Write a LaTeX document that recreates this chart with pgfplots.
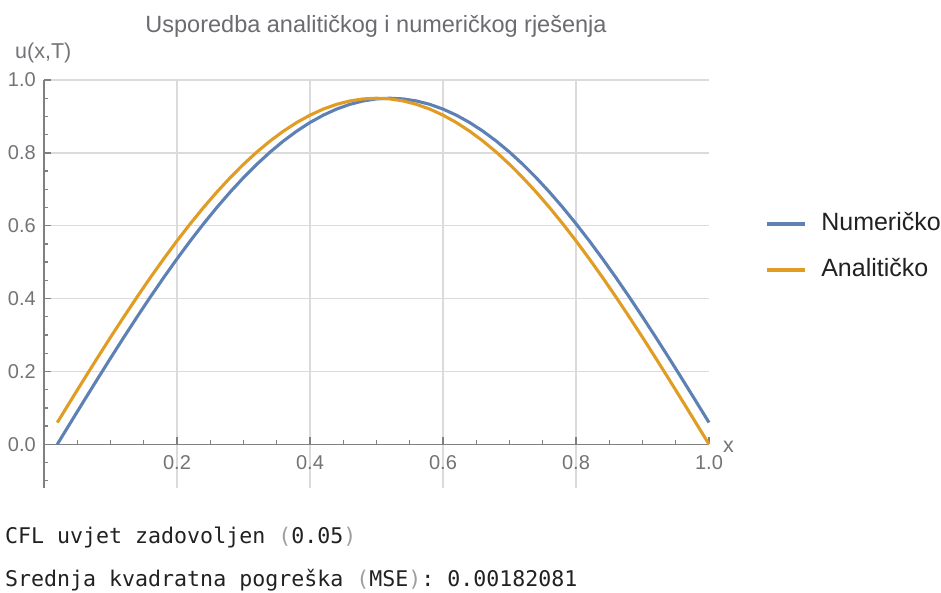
\documentclass[border=0pt]{standalone}
\usepackage{pgfplots}
\pgfplotsset{compat=1.18}
\usepackage{fontspec}
\setmainfont{Liberation Sans}
\setmonofont{DejaVu Sans Mono}

\definecolor{numblue}{rgb}{0.368,0.507,0.710}
\definecolor{anaorange}{rgb}{0.881,0.611,0.142}
\definecolor{axgray}{rgb}{0.50,0.50,0.50}
\definecolor{gridgray}{rgb}{0.86,0.86,0.86}
\definecolor{labgray}{rgb}{0.45,0.45,0.47}
\definecolor{titlegray}{rgb}{0.42,0.42,0.44}
\definecolor{txt}{rgb}{0.13,0.13,0.13}
\definecolor{parengray}{rgb}{0.62,0.62,0.62}

\pgfplotstableread{
x y
0.02 0.0000
0.04 0.0597
0.06 0.1191
0.08 0.1780
0.10 0.2363
0.12 0.2936
0.14 0.3497
0.16 0.4045
0.18 0.4577
0.20 0.5090
0.22 0.5584
0.24 0.6055
0.26 0.6503
0.28 0.6925
0.30 0.7320
0.32 0.7686
0.34 0.8021
0.36 0.8325
0.38 0.8596
0.40 0.8833
0.42 0.9035
0.44 0.9202
0.46 0.9332
0.48 0.9425
0.50 0.9481
0.52 0.9500
0.54 0.9481
0.56 0.9425
0.58 0.9332
0.60 0.9202
0.62 0.9035
0.64 0.8833
0.66 0.8596
0.68 0.8325
0.70 0.8021
0.72 0.7686
0.74 0.7320
0.76 0.6925
0.78 0.6503
0.80 0.6055
0.82 0.5584
0.84 0.5090
0.86 0.4577
0.88 0.4045
0.90 0.3497
0.92 0.2936
0.94 0.2363
0.96 0.1780
0.98 0.1191
1.00 0.0597
}\numericko

\pgfplotstableread{
x y
0.02 0.0597
0.04 0.1191
0.06 0.1780
0.08 0.2363
0.10 0.2936
0.12 0.3497
0.14 0.4045
0.16 0.4577
0.18 0.5090
0.20 0.5584
0.22 0.6055
0.24 0.6503
0.26 0.6925
0.28 0.7320
0.30 0.7686
0.32 0.8021
0.34 0.8325
0.36 0.8596
0.38 0.8833
0.40 0.9035
0.42 0.9202
0.44 0.9332
0.46 0.9425
0.48 0.9481
0.50 0.9500
0.52 0.9481
0.54 0.9425
0.56 0.9332
0.58 0.9202
0.60 0.9035
0.62 0.8833
0.64 0.8596
0.66 0.8325
0.68 0.8021
0.70 0.7686
0.72 0.7320
0.74 0.6925
0.76 0.6503
0.78 0.6055
0.80 0.5584
0.82 0.5090
0.84 0.4577
0.86 0.4045
0.88 0.3497
0.90 0.2936
0.92 0.2363
0.94 0.1780
0.96 0.1191
0.98 0.0597
1.00 0.0000
}\analiticko

\begin{document}
\begin{tikzpicture}
\useasboundingbox (0,0) rectangle (941pt,592pt);
\begin{axis}[
    at={(44pt,104pt)}, anchor=south west,
    scale only axis,
    width=665pt, height=408pt,
    xmin=0, xmax=1, ymin=-0.12, ymax=1.0,
    axis lines=middle,
    axis line style={axgray, line width=1.3pt, -},
    hide obscured x ticks=false,
    hide obscured y ticks=false,
    xtick={0.2,0.4,0.6,0.8},
    extra x ticks={1.0},
    extra x tick style={grid=none},
    ytick={0,0.2,0.4,0.6,0.8,1.0},
    minor xtick={0.05,0.1,0.15,0.25,0.3,0.35,0.45,0.5,0.55,0.65,0.7,0.75,0.85,0.9,0.95},
    minor ytick={-0.1,-0.05,0.05,0.1,0.15,0.25,0.3,0.35,0.45,0.5,0.55,0.65,0.7,0.75,0.85,0.9,0.95},
    tick align=inside,
    major tick length=7pt,
    minor tick length=4.5pt,
    tick style={axgray, line width=1.3pt},
    grid=major,
    major grid style={gridgray, line width=1.4pt},
    /pgf/number format/fixed,
    /pgf/number format/fixed zerofill,
    /pgf/number format/precision=1,
    /pgf/number format/assume math mode=true,
    ticklabel style={font=\fontsize{20pt}{24pt}\selectfont, text=labgray, inner sep=0pt},
    xticklabel style={yshift=-11.5pt},
    yticklabel style={xshift=-8pt},
    clip=false,
    legend style={at={(1.0842,0.5907)}, anchor=west, draw=none, fill=none,
        inner sep=0pt, row sep=23pt,
        font=\fontsize{25pt}{30pt}\selectfont,
        nodes={inner sep=0pt, text height=18pt, text depth=5pt, text=txt}},
    legend cell align=left,
    legend image code/.code={\draw[#1, line width=3.1pt] (0pt,0pt) -- (38pt,0pt); \path (53pt,0pt);},
]
\addplot[numblue, line width=3.1pt] table {\numericko};
\addlegendentry{Numeričko}
\addplot[anaorange, line width=3.1pt] table {\analiticko};
\addlegendentry{Analitičko}
\end{axis}

\node[anchor=base, inner sep=0pt, text=titlegray, font=\fontsize{23.5pt}{28pt}\selectfont] at (376pt,559pt) {Usporedba analitičkog i numeričkog rješenja};
\node[anchor=base west, inner sep=0pt, text=labgray, font=\fontsize{21.5pt}{26pt}\selectfont] at (15pt,533pt) {u(x,T)};
\node[anchor=base west, inner sep=0pt, text=labgray, font=\fontsize{21.5pt}{26pt}\selectfont] at (723pt,140pt) {x};

\node[anchor=base west, inner sep=0pt, text=txt, font=\fontsize{21.6pt}{26pt}\ttfamily] at (5pt,49pt) {CFL uvjet zadovoljen \textcolor{parengray}{(}0.05\textcolor{parengray}{)}};
\node[anchor=base west, inner sep=0pt, text=txt, font=\fontsize{21.6pt}{26pt}\ttfamily] at (5pt,6pt) {Srednja kvadratna pogreška \textcolor{parengray}{(}MSE\textcolor{parengray}{)}: 0.00182081};
\end{tikzpicture}
\end{document}
